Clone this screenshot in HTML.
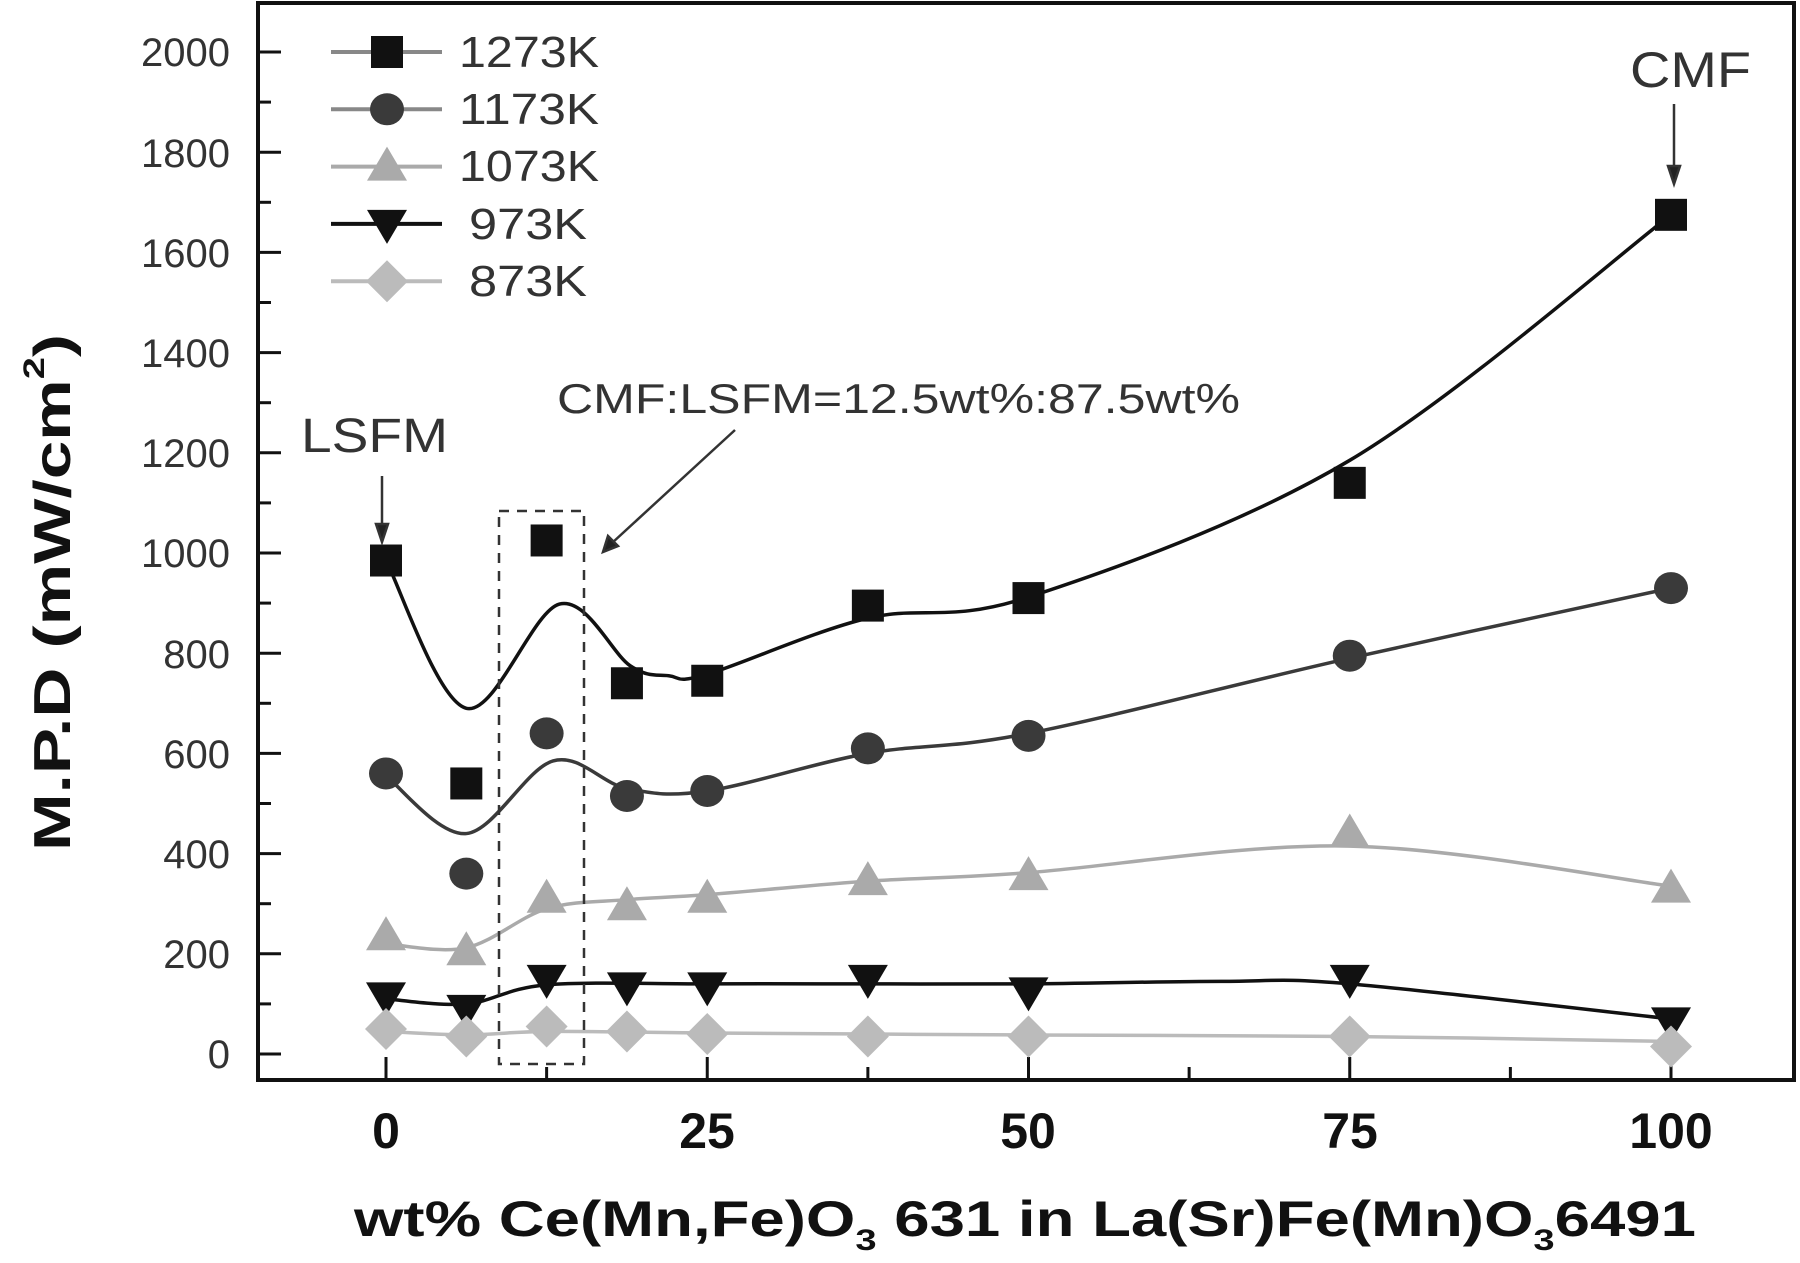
<!DOCTYPE html>
<html><head><meta charset="utf-8"><style>
html,body{margin:0;padding:0;background:#fff;}
svg{display:block;font-family:"Liberation Sans",Arial,sans-serif;}
</style></head><body>
<svg id="s" width="1800" height="1263" viewBox="0 0 1800 1263" xmlns="http://www.w3.org/2000/svg">
<rect width="1800" height="1263" fill="#fff"/>
<g id="g"></g>
<rect x="258" y="3" width="1536" height="1077" fill="none" stroke="#111" stroke-width="4"/>
<g font-size="40" fill="#333" text-anchor="end">
<text x="230" y="66">2000</text><text x="230" y="167">1800</text><text x="230" y="267">1600</text>
<text x="230" y="367">1400</text><text x="230" y="467">1200</text><text x="230" y="567">1000</text>
<text x="230" y="668">800</text><text x="230" y="768">600</text><text x="230" y="868">400</text>
<text x="230" y="968">200</text><text x="230" y="1068">0</text>
</g>
<g font-size="50" font-weight="bold" fill="#111" text-anchor="middle">
<text x="386" y="1148">0</text><text x="707" y="1148">25</text><text x="1028" y="1148">50</text>
<text x="1350" y="1148">75</text><text x="1671" y="1148">100</text>
</g>
<text x="354" y="1236" font-size="50" font-weight="bold" fill="#111" textLength="1342" lengthAdjust="spacingAndGlyphs">wt% Ce(Mn,Fe)O<tspan font-size="30" dy="14">3</tspan><tspan dy="-14"> 631 in La(Sr)Fe(Mn)O</tspan><tspan font-size="30" dy="14">3</tspan><tspan dy="-14">6491</tspan></text>
<text transform="translate(70,851) rotate(-90)" font-size="52" font-weight="bold" fill="#111" textLength="517" lengthAdjust="spacingAndGlyphs">M.P.D (mW/cm<tspan font-size="30" dy="-26">2</tspan><tspan dy="26">)</tspan></text>
<g font-size="44" fill="#333">
<text x="459" y="67" textLength="140" lengthAdjust="spacingAndGlyphs">1273K</text>
<text x="459" y="124" textLength="140" lengthAdjust="spacingAndGlyphs">1173K</text>
<text x="459" y="181" textLength="140" lengthAdjust="spacingAndGlyphs">1073K</text>
<text x="469" y="239" textLength="118" lengthAdjust="spacingAndGlyphs">973K</text>
<text x="469" y="296" textLength="118" lengthAdjust="spacingAndGlyphs">873K</text>
</g>
<g fill="#333">
<text x="301" y="452" font-size="48" textLength="147" lengthAdjust="spacingAndGlyphs">LSFM</text>
<text x="557" y="413" font-size="42" textLength="683" lengthAdjust="spacingAndGlyphs">CMF:LSFM=12.5wt%:87.5wt%</text>
<text x="1630" y="87" font-size="50" textLength="121" lengthAdjust="spacingAndGlyphs">CMF</text>
</g>
<g stroke="#333" stroke-width="2.5" fill="#222">
<line x1="382" y1="476" x2="382" y2="530"/><polygon points="376,524 388,524 382,542"/>
<line x1="735" y1="430" x2="612" y2="543"/><polygon points="603,552 608,536 618,546"/>
<line x1="1674" y1="104" x2="1674" y2="172"/><polygon points="1668,166 1680,166 1674,184"/>
</g>
<rect x="499" y="511" width="85" height="553" fill="none" stroke="#333" stroke-width="2.5" stroke-dasharray="10,8"/>
</svg>
<script>
var X=function(v){return 386+12.85*v},Y=function(v){return 1054-0.501*v};
var g=document.getElementById('g'),h='';
for(var v=0;v<=2000;v+=100){var y=Y(v);h+='<line x1="258" x2="'+(v%200==0?281:271)+'" y1="'+y+'" y2="'+y+'" stroke="#111" stroke-width="3"/>';}
for(var v=0;v<=100;v+=12.5){var x=X(v);h+='<line y1="1080" y2="'+(v%25==0?1057:1067)+'" x1="'+x+'" x2="'+x+'" stroke="#111" stroke-width="3"/>';}
function cr(p){var d='M'+p[0][0]+','+p[0][1];for(var i=0;i<p.length-1;i++){var p0=p[i-1]||p[i],p1=p[i],p2=p[i+1],p3=p[i+2]||p2;
d+=' C'+(p1[0]+(p2[0]-p0[0])/6)+','+(p1[1]+(p2[1]-p0[1])/6)+' '+(p2[0]-(p3[0]-p1[0])/6)+','+(p2[1]-(p3[1]-p1[1])/6)+' '+p2[0]+','+p2[1];}return d;}
function P(a){return a.map(function(q){return [X(q[0]),Y(q[1])]})}
var xs=[0,6.25,12.5,18.75,25,37.5,50,75,100];
var S=[
{c:'#111',m:'sq',d:[985,540,1025,740,745,895,910,1140,1675],cv:[[0,985],[6.25,690],[13.5,898],[19,775],[22,755],[25,758],[37.5,870],[50,912],[75,1185],[100,1675]]},
{c:'#3a3a3a',m:'ci',d:[560,360,640,515,525,610,635,795,930],cv:[[0,555],[6.25,440],[13,585],[18.75,530],[25,525],[37.5,600],[50,640],[75,790],[100,930]]},
{c:'#aaa',m:'tu',d:[235,205,310,295,310,345,355,440,330],cv:[[0,220],[6.25,212],[12.5,290],[18.75,308],[25,318],[37.5,345],[50,362],[75,415],[100,335]]},
{c:'#111',m:'td',d:[115,90,150,135,135,150,125,150,65],cv:[[0,110],[6.25,100],[12.5,138],[25,140],[37.5,140],[50,140],[65,145],[75,140],[100,70]]},
{c:'#bbb',m:'di',d:[50,35,55,45,40,35,35,35,15],cv:[[0,45],[6.25,38],[12.5,45],[25,42],[50,38],[75,35],[100,25]]}];
function mk(t,x,y,c){var r=16;
if(t=='sq')return '<rect x="'+(x-r)+'" y="'+(y-r)+'" width="'+2*r+'" height="'+2*r+'" fill="'+c+'"/>';
if(t=='ci')return '<ellipse cx="'+x+'" cy="'+y+'" rx="17" ry="16" fill="'+c+'"/>';
if(t=='tu')return '<polygon points="'+x+','+(y-20)+' '+(x-20)+','+(y+14)+' '+(x+20)+','+(y+14)+'" fill="'+c+'"/>';
if(t=='td')return '<polygon points="'+x+','+(y+20)+' '+(x-20)+','+(y-14)+' '+(x+20)+','+(y-14)+'" fill="'+c+'"/>';
return '<polygon points="'+x+','+(y-21)+' '+(x+21)+','+y+' '+x+','+(y+21)+' '+(x-21)+','+y+'" fill="'+c+'"/>';}
S.forEach(function(s,k){h+='<path d="'+cr(P(s.cv))+'" fill="none" stroke="'+s.c+'" stroke-width="3.5"/>';
s.d.forEach(function(v,i){h+=mk(s.m,X(xs[i]),Y(v),s.c)});
var ly=52+k*57.3;h+='<line x1="331" x2="442" y1="'+ly+'" y2="'+ly+'" stroke="'+(k==0||k==1?'#888':s.c)+'" stroke-width="4"/>'+mk(s.m,387,ly,s.c);});
g.innerHTML=h;
</script>
</body></html>
